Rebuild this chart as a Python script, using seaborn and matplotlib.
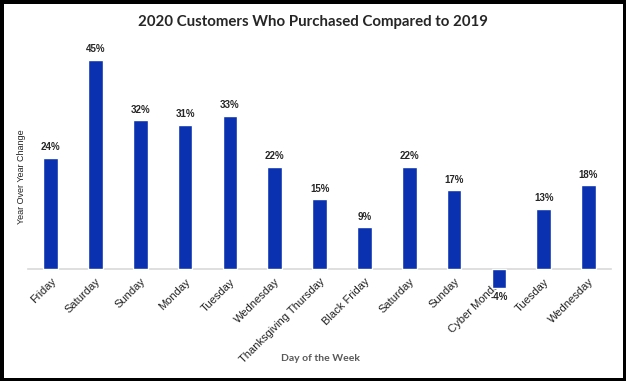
import pandas as pd
import numpy as np
import seaborn as sns
import matplotlib.pyplot as plt

days = ["Friday", "Saturday", "Sunday", "Monday", "Tuesday", "Wednesday",
        "Thanksgiving Thursday", "Black Friday", "Saturday", "Sunday",
        "Cyber Monday", "Tuesday", "Wednesday"]
change = [24, 45, 32, 31, 33, 22, 15, 9, 22, 17, -4, 13, 18]

data = pd.DataFrame({"pos": range(len(days)), "change": change})

sns.set_style("white")
plt.rcParams['font.family'] = ['Liberation Sans', 'DejaVu Sans']

fig = plt.figure(figsize=(6.26, 3.81), dpi=100, linewidth=5, edgecolor="black")
ax = fig.add_axes([0.045, 0.207, 0.931, 0.698])

sns.barplot(data=data, x="pos", y="change", color="#0a32b0", width=0.33,
            saturation=1, ax=ax)

ax.set_ylim(-7, 50)
ax.set_xlim(-0.5, len(days) - 0.5)
ax.set_xlabel("")
ax.set_ylabel("")

for i, v in enumerate(change):
    if v >= 0:
        ax.text(i, v + 1.2, f"{v}%", ha="center", va="bottom", fontsize=7, fontweight="bold")
    else:
        ax.text(i, v - 0.8, f"{v}%", ha="center", va="top", fontsize=7, fontweight="bold")

# x axis sits on the zero line, like the Excel original
for s in ["top", "right", "left"]:
    ax.spines[s].set_visible(False)
ax.spines["bottom"].set_position(("data", 0))
ax.spines["bottom"].set_color("#d9d9d9")
ax.spines["bottom"].set_linewidth(1.2)
ax.spines["bottom"].set_zorder(0)

ax.set_xticks(range(len(days)))
ax.set_xticklabels(days, rotation=45, ha="right", rotation_mode="anchor", fontsize=8, color="#222222")
ax.tick_params(axis="x", length=0, pad=5)
ax.set_yticks([])

fig.text(0.512, 0.06, "Day of the Week", ha="center", va="center", fontsize=7.5,
         color="#595959", fontweight="bold", family="Lato")
fig.text(0.034, 0.535, "Year Over Year Change", ha="center", va="center", rotation=90,
         fontsize=6.5, color="#222222")
fig.suptitle("2020 Customers Who Purchased Compared to 2019", fontsize=10.8,
             fontweight="bold", family="Lato", y=0.96)

fig.savefig("out.png", dpi=100, edgecolor=fig.get_edgecolor())
